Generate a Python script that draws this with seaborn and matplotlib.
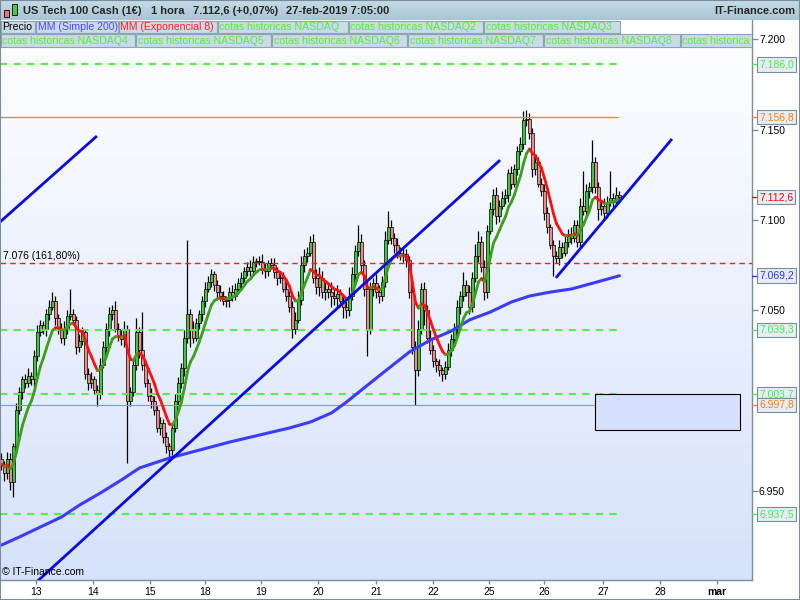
import numpy as np
import pandas as pd
import matplotlib
matplotlib.use("Agg")
import matplotlib.pyplot as plt
import seaborn as sns
import matplotlib.transforms as mtransforms
from matplotlib.patches import Rectangle
from matplotlib.collections import LineCollection
from matplotlib.colors import LinearSegmentedColormap

# ─── Data (hourly candles) ────────────────────────────────────────────────────
FIRST_OPEN = 6968
CLOSE = [
    6965, 6960, 6968, 6955, 6975, 6995, 7005, 7012, 7010, 7014,
    7012, 7025, 7038, 7042, 7040, 7048, 7052, 7055, 7046, 7040,
    7035, 7040, 7047, 7048, 7045, 7030, 7033, 7038, 7015, 7010,
    7012, 7006, 7004, 7020, 7030, 7040, 7048, 7050, 7040, 7036,
    7034, 7040, 7000, 7005, 7020, 7038, 7028, 7020, 7010, 7003,
    7000, 6995, 6985, 6988, 6980, 6975, 6973, 6985, 7000, 7010,
    7018, 7035, 7048, 7040, 7035, 7043, 7048, 7055, 7062, 7066,
    7070, 7064, 7060, 7058, 7055, 7056, 7060, 7058, 7062, 7065,
    7068, 7072, 7074, 7072, 7077, 7077, 7077, 7073, 7072, 7076,
    7075, 7071, 7068, 7068, 7062, 7058, 7052, 7040, 7045, 7056,
    7075, 7080, 7082, 7088, 7068, 7063, 7068, 7060, 7062, 7060,
    7058, 7057, 7059, 7055, 7052, 7050, 7058, 7070, 7083, 7088,
    7075, 7062, 7040, 7062, 7065, 7060, 7058, 7066, 7089, 7096,
    7090, 7086, 7082, 7080, 7081, 7078, 7060, 7030, 7017, 7040,
    7062, 7050, 7035, 7028, 7022, 7020, 7017, 7015, 7019, 7028,
    7034, 7040, 7052, 7058, 7064, 7060, 7052, 7068, 7080, 7088,
    7074, 7060, 7094, 7106, 7114, 7102, 7108, 7112, 7114, 7126,
    7120, 7128, 7138, 7142, 7155, 7156, 7148, 7128, 7132, 7120,
    7116, 7104, 7096, 7086, 7080, 7079, 7085, 7082, 7088, 7092,
    7090, 7097, 7088, 7108, 7105, 7116, 7118, 7132, 7118, 7106,
    7108, 7104, 7110, 7112, 7110, 7114, 7112.6,
]
WICK_UP = [
    3, 2, 4, 3, 2, 4, 3, 2, 3, 4, 2, 3, 4, 3, 2, 3, 4, 5, 3, 2,
    3, 4, 3, 14, 3, 2, 4, 3, 2, 3, 4, 2, 3, 4, 3, 3, 4, 3, 5, 3,
    3, 4, 2, 3, 4, 8, 3, 21, 3, 2, 4, 3, 2, 3, 2, 3, 2, 3, 4, 3,
    3, 4, 41, 3, 4, 3, 2, 3, 4, 3, 3, 2, 3, 4, 3, 2, 3, 4, 3, 3,
    3, 2, 3, 4, 3, 2, 3, 4, 3, 2, 3, 4, 3, 2, 3, 4, 3, 3, 4, 5,
    5, 4, 3, 3, 4, 5, 6, 4, 5, 3, 6, 4, 5, 3, 4, 3, 5, 4, 3, 9,
    4, 3, 5, 4, 3, 5, 4, 3, 5, 9, 4, 3, 4, 3, 4, 3, 2, 4, 3, 5,
    3, 4, 3, 4, 3, 2, 3, 2, 3, 4, 3, 3, 4, 3, 7, 3, 4, 3, 7, 6,
    3, 4, 3, 4, 3, 4, 3, 4, 3, 2, 4, 3, 3, 4, 5, 5, 3, 3, 4, 3,
    3, 4, 3, 2, 3, 3, 4, 3, 4, 3, 4, 3, 3, 4, 19, 4, 3, 12, 3, 3,
    3, 4, 3, 15, 3, 4, 2,
]
WICK_DN = [
    3, 4, 3, 4, 8, 3, 2, 4, 3, 2, 3, 4, 3, 2, 3, 4, 3, 2, 4, 3,
    3, 4, 3, 2, 3, 4, 3, 2, 3, 4, 3, 2, 7, 3, 2, 3, 4, 3, 2, 3,
    3, 4, 34, 3, 2, 3, 4, 3, 2, 3, 4, 3, 2, 4, 3, 4, 5, 3, 2, 3,
    3, 4, 3, 10, 3, 2, 3, 4, 3, 2, 3, 3, 4, 3, 2, 3, 4, 3, 2, 3,
    3, 2, 3, 3, 2, 3, 2, 3, 4, 3, 2, 3, 4, 3, 2, 3, 3, 5, 3, 2,
    3, 4, 3, 2, 3, 4, 5, 3, 4, 3, 6, 4, 5, 3, 6, 4, 3, 2, 3, 3,
    3, 4, 15, 3, 4, 3, 4, 3, 3, 2, 3, 4, 3, 2, 3, 4, 3, 4, 19, 3,
    3, 8, 3, 2, 3, 4, 3, 4, 3, 2, 3, 2, 3, 4, 3, 2, 4, 3, 2, 3,
    3, 4, 3, 2, 3, 4, 3, 2, 3, 4, 3, 2, 3, 2, 3, 3, 3, 4, 3, 2,
    3, 4, 3, 2, 11, 3, 4, 3, 2, 3, 3, 2, 3, 3, 2, 3, 4, 3, 3, 6,
    3, 4, 3, 2, 3, 2, 3,
]

# Simple MA 200
SMA_IDX = [0, 6, 13, 20, 26, 33, 40, 46, 56, 66, 76, 86, 96, 103, 110, 115,
           120, 125, 130, 136, 143, 150, 156, 163, 170, 176, 183, 190, 196, 201, 206]
SMA_VAL = [6920.4, 6924.9, 6930.4, 6935.9, 6942.5, 6949.2, 6956.4, 6963.0,
           6968.5, 6972.9, 6977.3, 6981.2, 6985.1, 6988.4, 6993.4, 6999.4,
           7006.1, 7012.7, 7019.3, 7027.1, 7033.7, 7038.7, 7044.8, 7049.2,
           7054.7, 7058.0, 7060.2, 7061.9, 7064.6, 7066.9, 7069.2]

GREEN_LEVELS = [7186.0, 7039.3, 7003.7, 6937.5]
ORANGE_LEVELS = [7156.8, 6997.8]
FIB_LEVEL = 7076
LEVEL_END = 205.5

# trendlines: (x0, y0, x1, y1) in candle index / price
TRENDLINES = [(-0.5, 7098.9, 31.8, 7146.4),
              (9.5, 6896.7, 166.2, 7133.1),
              (184.8, 7068.0, 223.5, 7144.8)]
ZONE = (197.8, 6984.0, 246.2, 7003.9)

DAY_POS = [11.5, 30.5, 49.5, 68, 86.5, 105.5, 125, 144, 162.5, 181, 200.5, 219.5, 238.5]
DAY_LABELS = ["13", "14", "15", "18", "19", "20", "21", "22", "25", "26", "27", "28", "mar"]
Y_TICKS = [6950, 7050, 7100, 7150, 7200]

# ─── Style ────────────────────────────────────────────────────────────────────
sns.set_style("ticks")
plt.rcParams["font.family"] = ["Liberation Sans", "DejaVu Sans"]

FRAME = "#7a8c9c"
GREEN_TXT = "#55ee33"
W, H = 800, 600


def fx(x):
    return x / W


def fy(y):
    return 1 - y / H


def eu(v, dec=1):
    s = f"{v:,.{dec}f}"
    return s.replace(",", "X").replace(".", ",").replace("X", ".")


fig = plt.figure(figsize=(8, 6), dpi=100)
fig.patch.set_facecolor("white")

ax = fig.add_axes([0, fy(580), fx(752), fy(20) - fy(580)])
XLIM = (-0.5, 250.17)
YLIM = (6901.1, 7210.5)

# background gradient
bg = LinearSegmentedColormap.from_list("bg", ["#ffffff", "#d6e2fb"])
ax.imshow(np.linspace(0, 1, 256).reshape(-1, 1), cmap=bg, aspect="auto",
          extent=[XLIM[0], XLIM[1], YLIM[0], YLIM[1]], origin="upper", zorder=0)

# candles
close = np.array(CLOSE, dtype=float)
opens = np.concatenate([[FIRST_OPEN], close[:-1]])
idx = np.arange(len(close))
top = np.maximum(opens, close)
bot = np.minimum(opens, close)
high = top + np.array(WICK_UP)
low = bot - np.array(WICK_DN)
up = close >= opens

ax.vlines(idx, low, high, color="black", lw=0.9, zorder=2)
ax.bar(idx[up], np.maximum(top - bot, 0.4)[up], bottom=bot[up], width=0.75,
       color="#3cc83c", edgecolor="black", linewidth=0.5, zorder=2.5)
ax.bar(idx[~up], np.maximum(top - bot, 0.4)[~up], bottom=bot[~up], width=0.75,
       color="#ef8a8a", edgecolor="black", linewidth=0.5, zorder=2.5)

# horizontal levels
for lv in GREEN_LEVELS:
    ax.plot([XLIM[0], LEVEL_END], [lv, lv], color="#55ee44", lw=1.5,
            dashes=(3.5, 3), zorder=3)
ax.plot([XLIM[0], LEVEL_END], [ORANGE_LEVELS[0]] * 2, color="#ff8c10", lw=1, zorder=3)
ax.plot([XLIM[0], LEVEL_END], [ORANGE_LEVELS[1]] * 2, color="#c88a60", lw=0.8, zorder=3)
ax.plot(XLIM, [FIB_LEVEL, FIB_LEVEL], color="#ff1a1a", lw=1, dashes=(4, 3), zorder=3)
ax.text(0.5, FIB_LEVEL + 1.5, "7.076 (161,80%)", fontsize=7.5, color="black",
        ha="left", va="bottom", zorder=6)

# zone box
ax.add_patch(Rectangle((ZONE[0], ZONE[1]), ZONE[2] - ZONE[0], ZONE[3] - ZONE[1],
                       facecolor="#d6e0fc", edgecolor="black", lw=0.8, zorder=3))

# SMA 200
sma = pd.DataFrame({"i": SMA_IDX, "v": SMA_VAL})
sns.lineplot(data=sma, x="i", y="v", ax=ax, color="#3b3bff", lw=2.2, zorder=4,
             legend=False)

# EMA 8, red when falling, green when rising
ema = pd.Series(close).ewm(span=8, adjust=False).mean().values
pts = np.column_stack([idx, ema])
segs = np.stack([pts[:-1], pts[1:]], axis=1)
cols = np.where(np.diff(ema) >= 0, "#3f9e1c", "#ff1010")
ax.add_collection(LineCollection(segs, colors=cols, lw=2, zorder=5, capstyle="round"))

# trendlines
for x0, y0, x1, y1 in TRENDLINES:
    ax.plot([x0, x1], [y0, y1], color="#0a0ae6", lw=2, zorder=6,
            solid_capstyle="butt")

ax.text(0.3, YLIM[0] + 1.5, "© IT-Finance.com", fontsize=7.5, color="black",
        ha="left", va="bottom", zorder=6)

ax.set_xlim(XLIM)
ax.set_ylim(YLIM)
ax.set_xlabel("")
ax.set_ylabel("")
for s in ["top", "left"]:
    ax.spines[s].set_visible(False)
for s in ["bottom", "right"]:
    ax.spines[s].set_color(FRAME)
    ax.spines[s].set_linewidth(1)

ax.yaxis.tick_right()
ax.set_yticks(Y_TICKS)
ax.set_yticklabels([eu(v, 0) for v in Y_TICKS])
ax.set_xticks(DAY_POS)
ax.set_xticklabels(DAY_LABELS)
ax.get_xticklabels()[-1].set_fontweight("bold")
ax.tick_params(axis="both", colors=FRAME, labelcolor="black", labelsize=7.5,
               length=4, width=1, pad=1)
ax.tick_params(axis="x", length=3, pad=2)

# right-side value labels
blend = mtransforms.blended_transform_factory(ax.transAxes, ax.transData)
value_labels = [(GREEN_LEVELS[0], "#44ee44"), (ORANGE_LEVELS[0], "#ff8000"),
                (CLOSE[-1], "#ff0000"), (SMA_VAL[-1], "#3030ff"),
                (GREEN_LEVELS[1], "#44ee44"), (GREEN_LEVELS[2], "#44ee44"),
                (ORANGE_LEVELS[1], "#ff8000"), (GREEN_LEVELS[3], "#44ee44")]
for v, c in value_labels:
    ax.plot([1.0, 1.0 + 6 / 752], [v, v], transform=blend, color=c, lw=1,
            clip_on=False, zorder=7)
    ax.text(1.0 + 7 / 752, v, eu(v, 1), transform=blend, color=c, fontsize=7.5,
            ha="left", va="center", clip_on=False, zorder=8,
            bbox=dict(boxstyle="square,pad=0.22", fc="#e6edf5", ec=FRAME, lw=0.8))

# ─── Header bar ───────────────────────────────────────────────────────────────
hax = fig.add_axes([0, fy(20), 1, 20 / H], zorder=10)
hcm = LinearSegmentedColormap.from_list("hd", ["#c6dce8", "#a8c4d4"])
hax.imshow(np.linspace(0, 1, 64).reshape(-1, 1), cmap=hcm, aspect="auto",
           extent=[0, 1, 0, 1], origin="upper")
hax.set_axis_off()

# candle icon
fig.add_artist(Rectangle((fx(4), fy(17)), 5 / W, 7 / H, transform=fig.transFigure,
                         fc="#f07070", ec="black", lw=0.6, zorder=11))
fig.add_artist(Rectangle((fx(12), fy(15)), 5 / W, 11 / H, transform=fig.transFigure,
                         fc="#44cc44", ec="black", lw=0.6, zorder=11))

header = [(23, "US Tech 100 Cash (1€)"), (151, "1 hora"),
          (193, "7.112,6 (+0,07%)"), (286, "27-feb-2019 7:05:00")]
for x, t in header:
    fig.text(fx(x), fy(10.5), t, fontsize=8, fontweight="bold", ha="left",
             va="center", zorder=12)
fig.text(fx(795), fy(10.5), "IT-Finance.com", fontsize=8, fontweight="bold",
         ha="right", va="center", zorder=12)

# ─── Legend boxes ─────────────────────────────────────────────────────────────
clip = mtransforms.Bbox.from_extents(0, 0, 752, 600)
rows = [
    (21, 33, [(1, 35, "Precio", "black"),
              (36, 118, "MM (Simple 200)", "#4a4aff"),
              (119, 217, "MM (Exponencial 8)", "#ff2020"),
              (218, 348, "cotas historicas NASDAQ", GREEN_TXT),
              (349, 483, "cotas historicas NASDAQ2", GREEN_TXT),
              (484, 620, "cotas historicas NASDAQ3", GREEN_TXT)]),
    (34, 47, [(1, 135, "cotas historicas NASDAQ4", GREEN_TXT),
              (136, 271, "cotas historicas NASDAQ5", GREEN_TXT),
              (272, 407, "cotas historicas NASDAQ6", GREEN_TXT),
              (408, 543, "cotas historicas NASDAQ7", GREEN_TXT),
              (544, 680, "cotas historicas NASDAQ8", GREEN_TXT),
              (681, 820, "cotas historica", GREEN_TXT)]),
]
for y0, y1, boxes in rows:
    for x0, x1, t, c in boxes:
        r = Rectangle((fx(x0), fy(y1)), (x1 - x0) / W, (y1 - y0) / H,
                      transform=fig.transFigure, fc="#c9dbe6", ec="#8ea2b2",
                      lw=0.8, zorder=11)
        fig.add_artist(r)
        r.set_clip_box(clip)
        tx = fig.text(fx(x0 + 1.5), fy((y0 + y1) / 2 + 0.5), t, fontsize=7.6,
                      color=c, ha="left", va="center", zorder=12)
        tx.set_clip_box(clip)
        tx.set_clip_on(True)

# outer frame
fig.add_artist(Rectangle((0, 0), 1, 1, transform=fig.transFigure, fill=False,
                         ec=FRAME, lw=1.5, zorder=20))

fig.savefig("out.png", dpi=100)
plt.close(fig)
